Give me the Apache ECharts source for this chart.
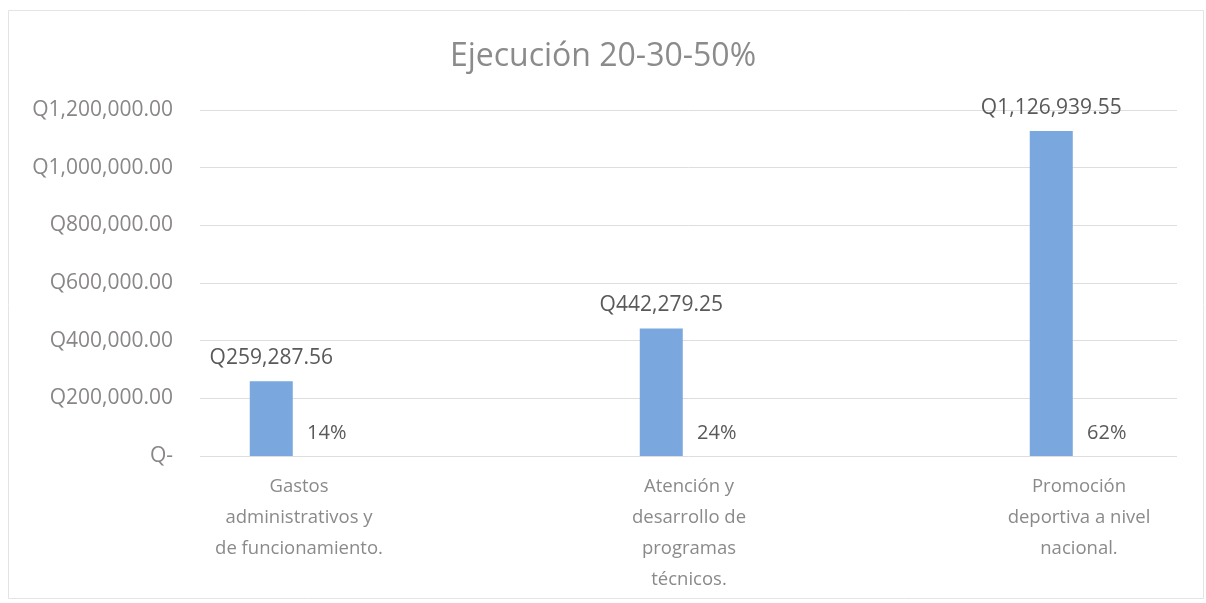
<!DOCTYPE html>
<html>
<head>
<meta charset="utf-8">
<title>Ejecución 20-30-50%</title>
<script src="https://cdn.jsdelivr.net/npm/echarts@6/dist/echarts.min.js"></script>
<style>
    html, body { margin: 0; padding: 0; background: #fff; }
    #chart { width: 1206px; height: 603px; }
</style>
</head>
<body>
<div id="chart"></div>
<script>
    // datos del grafico
    var categorias = [
        'Gastos\nadministrativos y\nde funcionamiento.',
        'Atención y\ndesarrollo de\nprogramas\ntécnicos.',
        'Promoción\ndeportiva a nivel\nnacional.'
    ];
    var montos = [259287.56, 442279.25, 1126939.55];
    var porcentajes = [14, 24, 62];
    var ejeMin = 0, ejeMax = 1200000, ejePaso = 200000;

    var fuente = '"Open Sans", "Noto Sans", sans-serif';

    function quetzales(v) {
        if (v === 0) return 'Q-';
        var partes = v.toFixed(2).split('.');
        partes[0] = partes[0].replace(/\B(?=(\d{3})+(?!\d))/g, ',');
        return 'Q' + partes.join('.');
    }

    var myChart = echarts.init(document.getElementById('chart'));
    var option = {
        backgroundColor: '#ffffff',
        animation: false,
        title: {
            text: 'Ejecución 20-30-50%',
            left: 'center',
            top: 36,
            textStyle: { fontSize: 32, fontWeight: 'normal', color: '#8c8a8c', fontFamily: fuente }
        },
        graphic: [{
            type: 'rect',
            silent: true,
            shape: { x: 8.5, y: 10.5, width: 1195, height: 588 },
            style: { fill: 'none', stroke: '#e4e4e4', lineWidth: 1 }
        }],
        grid: [
            { left: 200, right: 29, top: 110, bottom: 147, outerBoundsMode: 'none' },
            // las barras se reparten un poco mas ancho que las lineas de division
            { left: 104, width: 1170, top: 110, bottom: 147, outerBoundsMode: 'none' }
        ],
        xAxis: [
            { gridIndex: 0, type: 'category', data: categorias, show: false },
            {
                gridIndex: 1, type: 'category', data: categorias,
                axisLine: { show: false },
                axisTick: { show: false },
                axisLabel: { color: '#8a8a8a', fontSize: 18.5, lineHeight: 31, margin: 15, fontFamily: fuente }
            }
        ],
        yAxis: [
            {
                gridIndex: 0, type: 'value', min: ejeMin, max: ejeMax, interval: ejePaso,
                axisLine: { show: false },
                axisTick: { show: false },
                axisLabel: { formatter: quetzales, color: '#8a8686', fontSize: 21, margin: 27, fontFamily: fuente },
                splitLine: { lineStyle: { color: '#dedede', width: 1 } }
            },
            { gridIndex: 1, type: 'value', min: ejeMin, max: ejeMax, show: false, splitLine: { show: false } }
        ],
        series: [
            {
                name: 'Monto',
                type: 'bar',
                xAxisIndex: 1, yAxisIndex: 1,
                data: montos,
                barWidth: 43,
                barGap: '29%',
                itemStyle: { color: '#79a7de' },
                label: {
                    show: true, position: 'top', distance: 13,
                    formatter: function (p) { return quetzales(p.value); },
                    fontSize: 21, color: '#595959', fontFamily: fuente
                }
            },
            {
                name: 'Porcentaje',
                type: 'bar',
                xAxisIndex: 1, yAxisIndex: 1,
                data: porcentajes,
                barWidth: 43,
                barGap: '29%',
                silent: true,
                itemStyle: { color: 'rgba(0,0,0,0)' },
                label: {
                    show: true, position: 'top', distance: 13,
                    formatter: '{c}%',
                    fontSize: 20, color: '#595959', fontFamily: fuente
                }
            }
        ]
    };
    myChart.setOption(option);
</script>
</body>
</html>
